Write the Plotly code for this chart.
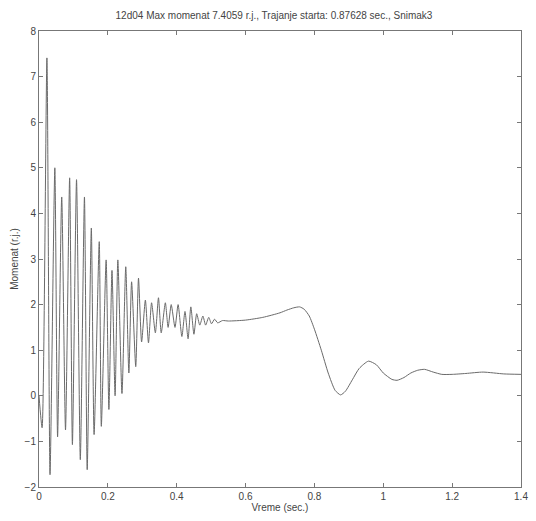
import plotly.graph_objects as go

# time (s) and moment (r.j.)
t_vals = [0.000, 0.009, 0.023, 0.032, 0.046, 0.054, 0.066, 0.077, 0.089, 0.097,
          0.109, 0.120, 0.132, 0.140, 0.152, 0.160, 0.175, 0.181, 0.195, 0.203,
          0.212, 0.221, 0.229, 0.241, 0.252, 0.261, 0.269, 0.281, 0.289, 0.298,
          0.309, 0.318, 0.327, 0.338, 0.347, 0.355, 0.367, 0.375, 0.384, 0.395,
          0.404, 0.415, 0.424, 0.433, 0.441, 0.450, 0.458, 0.467, 0.476, 0.484,
          0.493, 0.501, 0.510, 0.519, 0.533, 0.550, 0.600, 0.650, 0.700, 0.720,
          0.740, 0.757, 0.770, 0.785, 0.800, 0.820, 0.840, 0.860, 0.876, 0.890,
          0.910, 0.930, 0.957, 0.980, 1.000, 1.025, 1.040, 1.060, 1.080, 1.100,
          1.120, 1.145, 1.170, 1.200, 1.240, 1.290, 1.350, 1.400]
m_vals = [0.00, -0.70, 7.41, -1.73, 5.00, -0.90, 4.36, -0.75, 4.78, -1.07,
          4.74, -1.40, 4.36, -1.62, 3.68, -0.85, 3.38, -0.67, 2.98, -0.30,
          2.75, 0.00, 2.98, 0.05, 2.83, 0.50, 2.50, 0.64, 2.58, 1.18,
          2.10, 1.16, 2.04, 1.38, 2.15, 1.38, 2.04, 1.50, 2.00, 1.50,
          2.00, 1.30, 1.85, 1.25, 1.95, 1.35, 1.80, 1.55, 1.75, 1.55,
          1.72, 1.58, 1.68, 1.60, 1.65, 1.64, 1.66, 1.72, 1.82, 1.88,
          1.93, 1.95, 1.90, 1.75, 1.46, 1.00, 0.50, 0.12, 0.02, 0.10,
          0.35, 0.60, 0.76, 0.68, 0.50, 0.36, 0.34, 0.40, 0.50, 0.56,
          0.58, 0.52, 0.47, 0.47, 0.49, 0.52, 0.48, 0.47]

x_ticks = [0, 0.2, 0.4, 0.6, 0.8, 1, 1.2, 1.4]
x_tick_text = ["0", "0.2", "0.4", "0.6", "0.8", "1", "1.2", "1.4"]
y_ticks = [-2, -1, 0, 1, 2, 3, 4, 5, 6, 7, 8]

title_text = "12d04 Max momenat 7.4059 r.j., Trajanje starta: 0.87628 sec., Snimak3"

fig = go.Figure()
fig.add_trace(go.Scatter(x=t_vals, y=m_vals, mode="lines",
                         line=dict(color="#6a6a6a", width=1, shape="spline", smoothing=0.6),
                         showlegend=False))

axis_common = dict(showgrid=False, zeroline=False, showline=True, linecolor="#777",
                   linewidth=1, mirror="ticks", ticks="inside", ticklen=4,
                   tickcolor="#777", tickfont=dict(family="Liberation Sans", size=10, color="#444"))

fig.update_layout(
    width=536, height=521,
    margin=dict(l=39, r=8, t=31, b=34),
    paper_bgcolor="white", plot_bgcolor="white",
    font=dict(family="Liberation Sans", size=10, color="#444"),
    title=dict(text=title_text, x=274/536, xanchor="center", y=1 - 15/521, yanchor="middle",
               font=dict(family="Liberation Sans", size=10, color="#444")),
    xaxis=dict(range=[0, 1.4], tickvals=x_ticks, ticktext=x_tick_text,
               title=dict(text="Vreme (sec.)", standoff=2,
                          font=dict(family="Liberation Sans", size=10, color="#444")),
               **axis_common),
    yaxis=dict(range=[-2, 8], tickvals=y_ticks,
               title=dict(text="Momenat (r.j.)", standoff=4,
                          font=dict(family="Liberation Sans", size=10, color="#444")),
               **axis_common),
)

fig.write_html("out.html")
